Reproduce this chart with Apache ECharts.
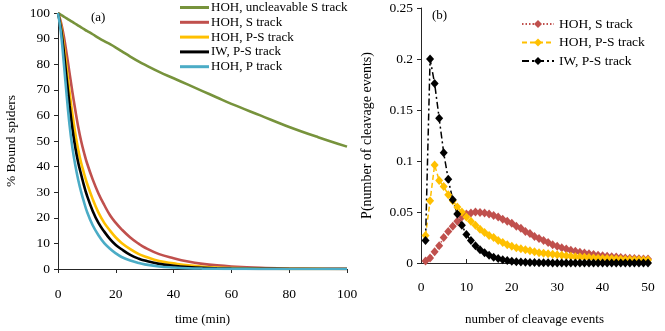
<!DOCTYPE html>
<html>
<head>
<meta charset="utf-8">
<script src="https://cdn.jsdelivr.net/npm/echarts@6/dist/echarts.min.js"></script>
<style>
  html, body { margin: 0; padding: 0; background: #fff; }
  #chart { width: 665px; height: 331px; }
</style>
</head>
<body>
<div id="chart"></div>
<script>
// (a) % bound spiders vs time
const timeMin = [0, 1, 2, 3, 4, 5, 6, 7, 8, 9, 10, 12, 14, 16, 18, 20, 22, 25, 28, 30, 35, 40, 45, 50, 55, 60, 70, 80, 90, 100]
const hohUncleavable = [100, 99.3, 98.6, 97.9, 97.2, 96.5, 95.8, 95.1, 94.4, 93.7, 93, 91.7, 90.3, 89, 87.8, 86.5, 85.1, 83, 81, 79.8, 77, 74.5, 72, 69.5, 67, 64.5, 60, 55.5, 51.5, 47.8]
const hohS = [100, 96.5, 91, 84, 76.5, 69, 62, 55.5, 50, 45.5, 41.5, 35, 29.5, 25, 21, 18, 15.5, 12.3, 9.8, 8.4, 5.8, 4.2, 2.9, 2.0, 1.4, 1.0, 0.5, 0.25, 0.12, 0.06]
const hohPS = [100, 95.1, 87.5, 78.4, 69, 60.4, 52.8, 46.6, 41.5, 37.4, 33.6, 27.3, 22, 18, 15, 12.3, 10.2, 7.75, 5.8, 4.9, 3.1, 2.2, 1.4, 0.9, 0.56, 0.38, 0.15, 0.06, 0.03, 0.01]
const iwPS = [100, 94.1, 85, 74.3, 64, 54.7, 47.4, 41.5, 36.9, 32.6, 28.8, 22.7, 18, 14.6, 11.7, 9.4, 7.7, 5.5, 4.0, 3.3, 2.0, 1.3, 0.8, 0.46, 0.28, 0.17, 0.06, 0.02, 0.01, 0]
const hohP = [100, 92.5, 80.6, 67.8, 56.2, 47.2, 40.4, 34.8, 30.1, 26.1, 22.5, 17.1, 13.2, 10.1, 7.9, 6.1, 4.7, 3.3, 2.3, 1.8, 0.98, 0.6, 0.31, 0.16, 0.09, 0.05, 0.02, 0.01, 0, 0]

// (b) P(number of cleavage events), n = 1..50
const events = Array.from({ length: 50 }, (_, i) => i + 1)
const probHohS = [0.002, 0.005, 0.011, 0.017, 0.025, 0.031, 0.036, 0.041, 0.045, 0.048,
  0.049, 0.050, 0.0495, 0.049, 0.048, 0.0465, 0.045, 0.043, 0.041, 0.039,
  0.036, 0.034, 0.031, 0.029, 0.026, 0.024, 0.022, 0.020, 0.018, 0.0165,
  0.015, 0.0137, 0.0125, 0.0115, 0.0105, 0.0097, 0.009, 0.0083, 0.0077, 0.0072,
  0.0067, 0.0062, 0.0058, 0.0054, 0.005, 0.0047, 0.0044, 0.0042, 0.004, 0.0038]
const probHohPS = [0.027, 0.061, 0.096, 0.081, 0.075, 0.067, 0.061, 0.055, 0.050, 0.045,
  0.041, 0.037, 0.033, 0.030, 0.027, 0.025, 0.022, 0.020, 0.018, 0.0165,
  0.015, 0.014, 0.013, 0.012, 0.011, 0.010, 0.0095, 0.009, 0.0085, 0.008,
  0.0075, 0.007, 0.0066, 0.0062, 0.0059, 0.0056, 0.0053, 0.005, 0.0047, 0.0045,
  0.0043, 0.0041, 0.0039, 0.0037, 0.0035, 0.0034, 0.0032, 0.0031, 0.003, 0.0029]
const probIwPS = [0.022, 0.200, 0.176, 0.142, 0.108, 0.082, 0.062, 0.048, 0.037, 0.028,
  0.022, 0.017, 0.013, 0.010, 0.0075, 0.0057, 0.0043, 0.0032, 0.0024, 0.0018,
  0.0013, 0.001, 0.0007, 0.0005, 0.0004, 0.0003, 0.0002, 0.0002, 0.0001, 0.0001,
  0, 0, 0, 0, 0, 0, 0, 0, 0, 0,
  0, 0, 0, 0, 0, 0, 0, 0, 0, 0]

const font = 'Liberation Serif'
const txt = { color: '#000', fontFamily: font, fontSize: 13 }
const tickTxt = { ...txt, fontSize: 13.5 }
const axisLine = { lineStyle: { color: '#262626', width: 1 } }

const pairs = (xs, ys) => xs.map((x, i) => [x, ys[i]])

function timeLine(name, data, color) {
  return {
    name, type: 'line', xAxisIndex: 0, yAxisIndex: 0,
    data: pairs(timeMin, data), smooth: 0.4, symbol: 'none',
    lineStyle: { color, width: 2.6 }, itemStyle: { color },
  }
}

// panel (b) names carry a trailing space so the two legends do not share series
function probLine(name, data, color, dash) {
  return {
    name: name + ' ', type: 'line', xAxisIndex: 1, yAxisIndex: 1,
    data: pairs(events, data), symbol: 'diamond', symbolSize: [8, 9],
    lineStyle: { color, width: 1.5, type: dash }, itemStyle: { color },
  }
}

const chart = echarts.init(document.getElementById('chart'))
chart.setOption({
  animation: false,
  backgroundColor: '#fff',
  title: [
    { text: '(a)', left: 86, top: 6, textStyle: { ...txt, fontWeight: 'normal' } },
    { text: '(b)', left: 427, top: 4, textStyle: { ...txt, fontWeight: 'normal' } },
  ],
  legend: [
    {
      data: ['HOH, uncleavable S track', 'HOH, S track', 'HOH, P-S track', 'IW, P-S track', 'HOH, P track'],
      orient: 'vertical', left: 175, top: -4, icon: 'rect', itemWidth: 29, itemHeight: 3, itemGap: 1.8,
      textStyle: { ...txt, padding: [0, 0, 0, -3] },
    },
    {
      data: ['HOH, S track ', 'HOH, P-S track ', 'IW, P-S track '],
      orient: 'vertical', left: 516, top: 12, itemWidth: 32, itemHeight: 10, itemGap: 4.5,
      textStyle: { ...txt, fontSize: 13.5 },
    },
  ],
  grid: [
    { left: 58, top: 13, width: 289, height: 258.5 },
    { left: 421, top: 8, width: 227, height: 258.5 },
  ],
  xAxis: [
    {
      gridIndex: 0, type: 'value', min: 0, max: 100, interval: 20,
      name: 'time (min)', nameLocation: 'middle', nameGap: 44, nameTextStyle: txt,
      axisLine, axisTick: { length: 4, lineStyle: { color: '#262626' } },
      axisLabel: { ...tickTxt, margin: 18 }, splitLine: { show: false },
    },
    {
      gridIndex: 1, type: 'value', min: 0, max: 50, interval: 10,
      name: 'number of cleavage events', nameLocation: 'middle', nameGap: 50, nameTextStyle: txt,
      axisLine, axisTick: { inside: true, length: 4, lineStyle: { color: '#262626' } },
      axisLabel: { ...tickTxt, margin: 17 }, splitLine: { show: false },
    },
  ],
  yAxis: [
    {
      gridIndex: 0, type: 'value', min: 0, max: 100, interval: 10,
      name: '% Bound spiders', nameLocation: 'middle', nameGap: 40, nameTextStyle: { ...txt, fontSize: 13.5 },
      axisLine: { show: true, ...axisLine }, axisTick: { show: true, length: 4, lineStyle: { color: '#262626' } },
      axisLabel: { ...tickTxt, margin: 8 }, splitLine: { show: false },
    },
    {
      gridIndex: 1, type: 'value', min: 0, max: 0.25, interval: 0.05,
      name: 'P(number of cleavage events)', nameLocation: 'middle', nameGap: 47, nameTextStyle: { ...txt, fontSize: 14 },
      axisLine: { show: true, ...axisLine }, axisTick: { show: true, length: 4, lineStyle: { color: '#262626' } },
      axisLabel: { ...tickTxt, margin: 8 }, splitLine: { show: false },
    },
  ],
  series: [
    timeLine('HOH, uncleavable S track', hohUncleavable, '#77933c'),
    timeLine('HOH, S track', hohS, '#c0504d'),
    timeLine('HOH, P-S track', hohPS, '#ffc000'),
    timeLine('IW, P-S track', iwPS, '#000000'),
    timeLine('HOH, P track', hohP, '#4bacc6'),
    probLine('HOH, S track', probHohS, '#c0504d', [1.5, 2]),
    probLine('HOH, P-S track', probHohPS, '#ffc000', [5, 3]),
    probLine('IW, P-S track', probIwPS, '#000000', [7, 3, 2, 3]),
  ],
})
</script>
</body>
</html>
